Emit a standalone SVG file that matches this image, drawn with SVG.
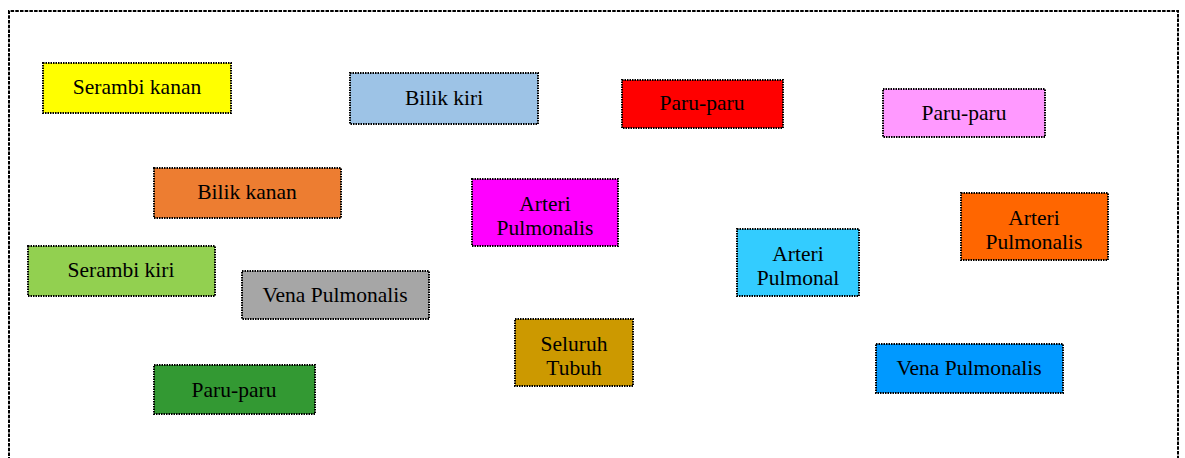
<svg xmlns="http://www.w3.org/2000/svg" width="1185" height="458" viewBox="0 0 1185 458">
<style>
.box{stroke:#000;stroke-width:2;stroke-dasharray:1.5 1}
.t{font-family:"Liberation Serif","Times New Roman",serif;font-size:21.5px;fill:#000;text-anchor:middle}
.frame{fill:none;stroke:#000;stroke-width:2;stroke-dasharray:3.5 1.2}
</style>
<rect width="1185" height="458" fill="#fff"/>
<path class="frame" d="M9 470 V11 H1178 V470"/>
<g id="connectors"></g>
<g id="n1"><rect class="box" x="43" y="63" width="188" height="50" fill="#ffff00"/><text class="t" x="137" y="94">Serambi kanan</text></g>
<g id="n2"><rect class="box" x="350" y="73" width="188" height="51" fill="#9dc3e6"/><text class="t" x="444" y="105">Bilik kiri</text></g>
<g id="n3"><rect class="box" x="622" y="80" width="161" height="48" fill="#ff0000"/><text class="t" x="702" y="110">Paru-paru</text></g>
<g id="n4"><rect class="box" x="883" y="89" width="162" height="48" fill="#ff99ff"/><text class="t" x="964" y="120">Paru-paru</text></g>
<g id="n5"><rect class="box" x="154" y="168" width="187" height="50" fill="#ed7d31"/><text class="t" x="247" y="199">Bilik kanan</text></g>
<g id="n6"><rect class="box" x="472" y="179" width="146" height="67" fill="#ff00ff"/><text class="t" x="545" y="211">Arteri</text><text class="t" x="545" y="235">Pulmonalis</text></g>
<g id="n7"><rect class="box" x="961" y="193" width="147" height="67" fill="#ff6600"/><text class="t" x="1034" y="225">Arteri</text><text class="t" x="1034" y="249">Pulmonalis</text></g>
<g id="n8"><rect class="box" x="737" y="229" width="122" height="67" fill="#33ccff"/><text class="t" x="798" y="261">Arteri</text><text class="t" x="798" y="285">Pulmonal</text></g>
<g id="n9"><rect class="box" x="28" y="246" width="187" height="50" fill="#92d050"/><text class="t" x="121" y="277">Serambi kiri</text></g>
<g id="n10"><rect class="box" x="242" y="271" width="187" height="48" fill="#a6a6a6"/><text class="t" x="335" y="302">Vena Pulmonalis</text></g>
<g id="n11"><rect class="box" x="515" y="319" width="118" height="67" fill="#cc9900"/><text class="t" x="574" y="351">Seluruh</text><text class="t" x="574" y="375">Tubuh</text></g>
<g id="n12"><rect class="box" x="876" y="344" width="187" height="49" fill="#0099ff"/><text class="t" x="969" y="375">Vena Pulmonalis</text></g>
<g id="n13"><rect class="box" x="154" y="365" width="161" height="49" fill="#339933"/><text class="t" x="234" y="397">Paru-paru</text></g>
</svg>
